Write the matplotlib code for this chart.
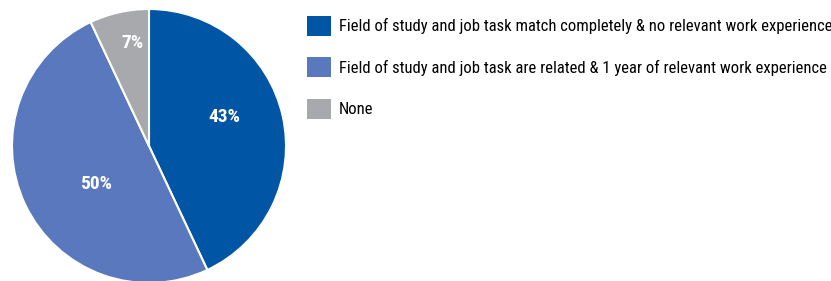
import matplotlib.pyplot as plt
from matplotlib.patches import Patch

labels = ['Field of study and job task match completely & no relevant work experience',
          'Field of study and job task are related & 1 year of relevant work experience',
          'None']
values = [43, 50, 7]
colors = ['#0055a4', '#5a78be', '#a7a9ac']
# label positions (relative to pie radius) for the percentage text
label_pos = [(0.55, 0.21), (-0.39, -0.28), (-0.12, 0.75)]

plt.rcParams['font.family'] = ['Roboto Condensed', 'PT Sans Narrow', 'Asap Condensed', 'DejaVu Sans']

fig = plt.figure(figsize=(8.31, 2.81), dpi=100)
ax = fig.add_axes([12 / 831, -2 / 281, 274 / 831, 274 / 281])

ax.pie(values, colors=colors, startangle=90, counterclock=False,
       wedgeprops=dict(edgecolor='white', linewidth=1.5), radius=1)
ax.set_xlim(-1, 1)
ax.set_ylim(-1, 1)
ax.set_aspect('equal')

for v, (x, y) in zip(values, label_pos):
    ax.text(x, y, f'{v}%', color='white', fontsize=14, fontweight='bold',
            ha='center', va='center')

handles = [Patch(facecolor=c, edgecolor='none') for c in colors]
fig.legend(handles, labels, loc='upper left', bbox_to_anchor=(307 / 831, 1 - 16 / 281),
           frameon=False, fontsize=12, handlelength=1.45, handleheight=1.45,
           labelspacing=1.3, handletextpad=0.45, borderaxespad=0, borderpad=0)

fig.savefig('out.png', dpi=100)
